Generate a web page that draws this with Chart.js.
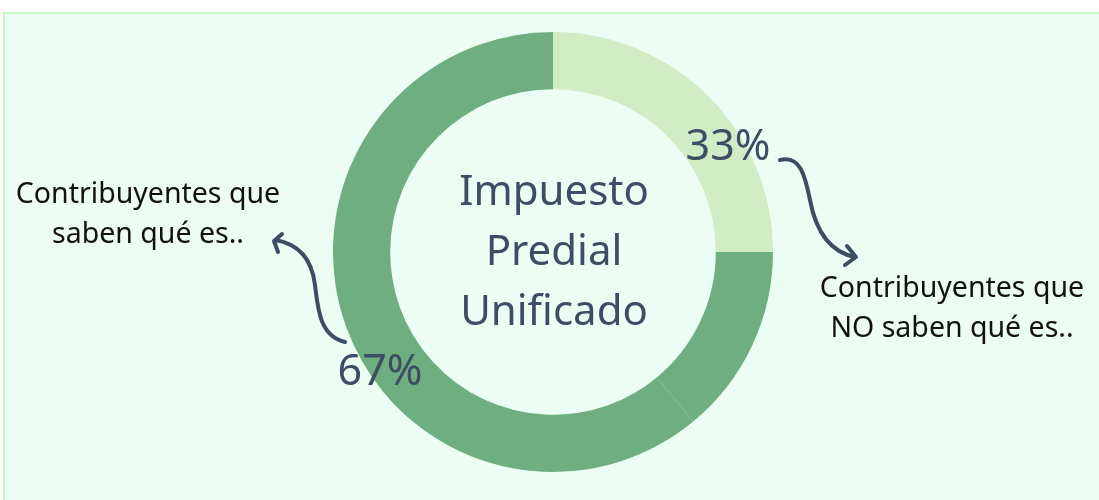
<!DOCTYPE html>
<html>
<head>
<meta charset="utf-8">
<script src="https://cdn.jsdelivr.net/npm/chart.js@4"></script>
<style>
  body { margin: 0; background: #ffffff; overflow: hidden; }
  #panel {
    position: absolute; left: 3px; top: 12px; width: 1120px; height: 520px;
    background: #ecfdf3; border-left: 2px solid #c8f7c8; border-top: 2px solid #c8f7c8;
  }
  #wrap { position: absolute; left: 0; top: 0; width: 1099px; height: 500px; }
</style>
</head>
<body>
<div id="panel"></div>
<div id="wrap"><canvas id="donut" width="1099" height="500"></canvas></div>
<script>
// segments as drawn (the dark part is split in two pieces of the same colour)
const categories = ['NO saben qué es', 'Saben qué es', 'Saben qué es'];
const values = [25, 14, 61];
const colors = ['#d0edc5', '#6eae80', '#6eae80'];

// text on the picture
const pctLabels = ['33%', '67%'];
const centerLines = ['Impuesto', 'Predial', 'Unificado'];
const leftLines = ['Contribuyentes que', 'saben qué es..'];
const rightLines = ['Contribuyentes que', 'NO saben qué es..'];

const ink = '#3c4e64';
const font = '"Noto Sans", sans-serif';

const annotations = {
  id: 'annotations',
  afterDraw(chart) {
    const c = chart.ctx;
    const arc = chart.getDatasetMeta(0).data[0];
    const cx = arc.x, cy = arc.y;
    c.save();
    c.textAlign = 'center';
    c.textBaseline = 'alphabetic';

    // centre title
    c.fillStyle = ink;
    c.font = '42px ' + font;
    centerLines.forEach((t, i) => c.fillText(t, cx + 1, cy - 47 + i * 60));

    // percentages
    c.font = '43px ' + font;
    c.fillText(pctLabels[0], cx + 175, cy - 92);
    c.fillText(pctLabels[1], cx - 173, cy + 133);

    // side labels
    c.fillStyle = '#111111';
    c.font = '28.5px ' + font;
    leftLines.forEach((t, i) => c.fillText(t, 148, 203 + i * 40));
    rightLines.forEach((t, i) => c.fillText(t, 952, 297 + i * 40));

    // curved arrows
    c.strokeStyle = ink;
    c.lineWidth = 4;
    c.lineCap = 'round';
    c.lineJoin = 'round';
    c.beginPath();
    c.moveTo(780, 160);
    c.bezierCurveTo(800, 155, 805, 175, 810, 200);
    c.bezierCurveTo(816, 232, 830, 252, 855, 257);
    c.moveTo(847, 246); c.lineTo(856, 257); c.lineTo(845, 265);
    c.stroke();

    c.beginPath();
    c.moveTo(345, 342);
    c.bezierCurveTo(320, 336, 318, 310, 315, 285);
    c.bezierCurveTo(312, 260, 300, 244, 275, 240);
    c.moveTo(282, 234); c.lineTo(274, 241); c.lineTo(278, 252);
    c.stroke();
    c.restore();
  }
};

new Chart(document.getElementById('donut').getContext('2d'), {
  type: 'doughnut',
  data: {
    labels: categories,
    datasets: [{
      data: values,
      backgroundColor: colors,
      borderWidth: 0
    }]
  },
  options: {
    responsive: false,
    animation: false,
    cutout: '74%',
    rotation: 0,
    layout: { padding: { top: 32, bottom: 28, left: 7, right: 0 } },
    plugins: {
      legend: { display: false },
      tooltip: { enabled: false }
    }
  },
  plugins: [annotations]
});
</script>
</body>
</html>
